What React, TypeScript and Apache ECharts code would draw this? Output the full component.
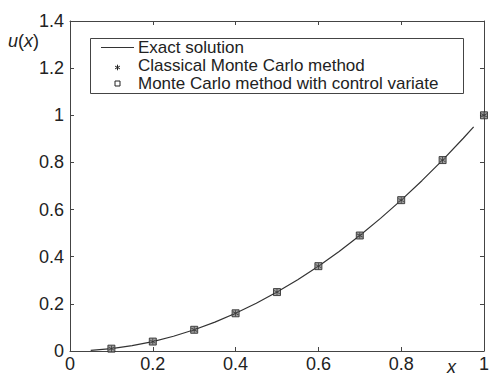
import React, { useEffect, useRef } from "react";
import * as echarts from "echarts";

const exactX = [0.05, 0.1, 0.15, 0.2, 0.25, 0.3, 0.35, 0.4, 0.45, 0.5, 0.55, 0.6, 0.65, 0.7, 0.75, 0.8, 0.85, 0.9, 0.95, 0.975];
const exactY = [0.0025, 0.01, 0.0225, 0.04, 0.0625, 0.09, 0.1225, 0.16, 0.2025, 0.25, 0.3025, 0.36, 0.4225, 0.49, 0.5625, 0.64, 0.7225, 0.81, 0.9025, 0.9506];
const sampleX = [0.1, 0.2, 0.3, 0.4, 0.5, 0.6, 0.7, 0.8, 0.9, 1.0];
const classicalY = [0.01, 0.04, 0.09, 0.16, 0.25, 0.36, 0.49, 0.64, 0.81, 1.0];
const controlY = [0.01, 0.04, 0.09, 0.16, 0.25, 0.36, 0.49, 0.64, 0.81, 1.0];
const xTicks = ["0", "0.2", "0.4", "0.6", "0.8", "1"];
const yTicks = ["0", "0.2", "0.4", "0.6", "0.8", "1", "1.2", "1.4"];
const seriesNames = ["Exact solution", "Classical Monte Carlo method", "Monte Carlo method with control variate"];

const FONT = "Liberation Sans, Arial, sans-serif";
const INK = "#222";
const ASTERISK =
  "path://M-0.6,-5L0.6,-5L0.6,5L-0.6,5Z M-4.6,-2.2L-4.0,-3.2L4.6,2.2L4.0,3.2Z M-4.6,2.2L-4.0,3.2L4.6,-2.2L4.0,-3.2Z";

export default function App() {
  const ref = useRef<HTMLDivElement>(null);
  useEffect(() => {
    document.body.style.margin = "0";
    const chart = echarts.init(ref.current!, null, { renderer: "svg" });
    const fmtX = (v: number) => xTicks[Math.round(v / 0.2)] ?? "";
    const fmtY = (v: number) => yTicks[Math.round(v / 0.2)] ?? "";
    const axisCommon = {
      type: "value" as const,
      interval: 0.2,
      splitLine: { show: false },
      axisLine: { show: true, onZero: false, lineStyle: { color: "#444", width: 1 } },
      axisTick: { show: true, inside: true, length: 4, lineStyle: { color: "#444" } },
    };
    const legendRows = [47.5, 65.5, 83.5];
    const ast = (cx: number, cy: number, r: number) => [
      { type: "line", shape: { x1: cx, y1: cy - r, x2: cx, y2: cy + r }, style: { stroke: INK, lineWidth: 1 } },
      { type: "line", shape: { x1: cx - r * 0.87, y1: cy - r * 0.5, x2: cx + r * 0.87, y2: cy + r * 0.5 }, style: { stroke: INK, lineWidth: 1 } },
      { type: "line", shape: { x1: cx - r * 0.87, y1: cy + r * 0.5, x2: cx + r * 0.87, y2: cy - r * 0.5 }, style: { stroke: INK, lineWidth: 1 } },
    ];
    chart.setOption({
      animation: false,
      backgroundColor: "#fff",
      grid: { left: 70, right: 3, top: 21, bottom: 26, containLabel: false },
      xAxis: [
        {
          ...axisCommon,
          min: 0,
          max: 1,
          position: "bottom",
          axisLabel: { show: true, color: INK, fontFamily: FONT, fontSize: 18, margin: 4, formatter: fmtX },
        },
        { ...axisCommon, min: 0, max: 1, position: "top", axisLabel: { show: false } },
      ],
      yAxis: [
        {
          ...axisCommon,
          min: 0,
          max: 1.4,
          position: "left",
          axisLabel: { show: true, color: INK, fontFamily: FONT, fontSize: 18, margin: 6, formatter: fmtY },
        },
        { ...axisCommon, min: 0, max: 1.4, position: "right", axisLabel: { show: false } },
      ],
      graphic: [
        {
          type: "text",
          x: 8,
          y: 41,
          style: {
            text: "{i|u}({i|x})",
            fill: INK,
            font: `18px ${FONT}`,
            verticalAlign: "middle",
            rich: { i: { fontStyle: "italic", fontFamily: FONT, fontSize: 18, fill: INK } },
          },
        },
        {
          type: "text",
          x: 447,
          y: 367,
          style: { text: "x", fill: INK, font: `italic 18px ${FONT}`, verticalAlign: "middle" },
        },
        {
          type: "group",
          z: 100,
          children: [
            {
              type: "rect",
              shape: { x: 90.5, y: 38.5, width: 373, height: 55 },
              style: { fill: "#fff", stroke: "#444", lineWidth: 1 },
            },
            {
              type: "line",
              shape: { x1: 101, y1: legendRows[0], x2: 134, y2: legendRows[0] },
              style: { stroke: "#333", lineWidth: 1.2 },
            },
            ...ast(117.5, legendRows[1] + 2, 2.8),
            {
              type: "rect",
              shape: { x: 115, y: legendRows[2] - 2.5, width: 5, height: 5 },
              style: { fill: "#fff", stroke: INK, lineWidth: 1 },
            },
            ...seriesNames.map((name, i) => ({
              type: "text",
              x: 138,
              y: legendRows[i],
              style: { text: name, fill: INK, font: `17px ${FONT}`, verticalAlign: "middle" },
            })),
          ],
        },
      ],
      series: [
        {
          name: seriesNames[0],
          type: "line",
          data: exactX.map((x, i) => [x, exactY[i]]),
          showSymbol: false,
          symbol: "none",
          lineStyle: { color: "#333", width: 1.2 },
          itemStyle: { color: "#333" },
          z: 2,
        },
        {
          name: seriesNames[2],
          type: "scatter",
          data: sampleX.map((x, i) => [x, controlY[i]]),
          symbol: "rect",
          symbolSize: 7,
          itemStyle: { color: "#888", borderColor: "#222", borderWidth: 1 },
          z: 3,
        },
        {
          name: seriesNames[1],
          type: "scatter",
          data: sampleX.map((x, i) => [x, classicalY[i]]),
          symbol: ASTERISK,
          symbolSize: 6,
          itemStyle: { color: "#222" },
          z: 4,
        },
      ],
    });
    return () => chart.dispose();
  }, []);
  return <div ref={ref} style={{ width: 492, height: 377 }} />;
}
